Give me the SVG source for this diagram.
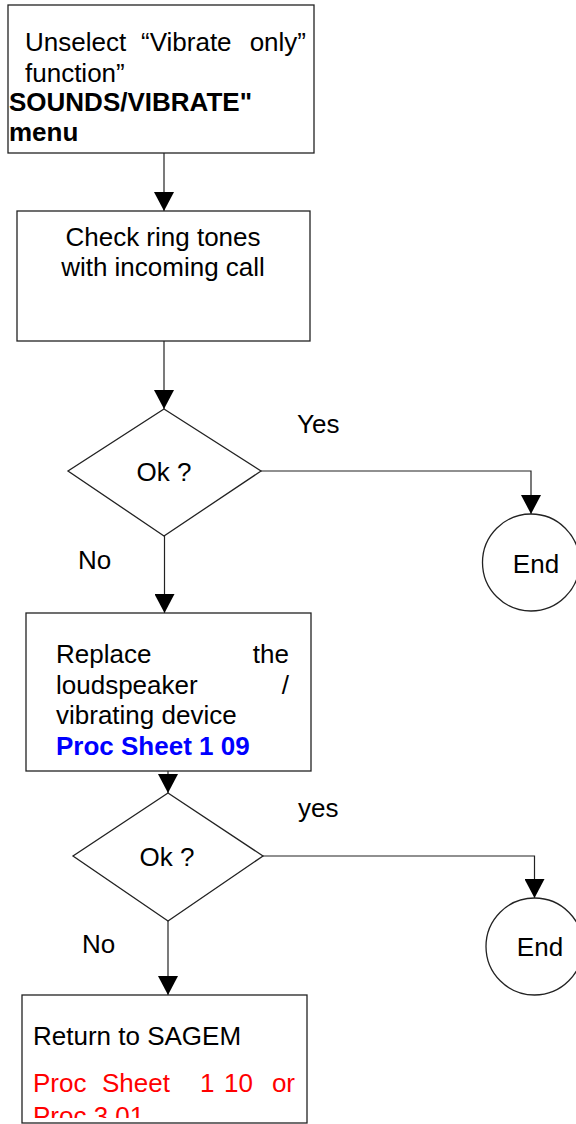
<svg xmlns="http://www.w3.org/2000/svg" width="576" height="1124" viewBox="0 0 576 1124">
<style>
.box{fill:#fff;stroke:#222;stroke-width:1.3}
.ln{fill:none;stroke:#222;stroke-width:1.2}
text{font-family:"Liberation Sans",Arial,sans-serif;font-size:26px;fill:#000}
.b{font-weight:bold}
.blue{fill:#0000ff}
.red{fill:#ff0000}
.c{text-anchor:middle}
.e{text-anchor:end}
</style>
<defs>
<marker id="arr" viewBox="0 0 19 20" refX="19" refY="10" markerWidth="19" markerHeight="20" markerUnits="userSpaceOnUse" orient="auto">
<path d="M0,0 L19,10 L0,20 z" fill="#000"/>
</marker>
<clipPath id="clip4"><rect x="22" y="995" width="285" height="123"/></clipPath>
</defs>
<g id="connectors">
<path class="ln" d="M164,153 V211" marker-end="url(#arr)"/>
<path class="ln" d="M164,341 V409" marker-end="url(#arr)"/>
<path class="ln" d="M261,471 H531 V514" marker-end="url(#arr)"/>
<path class="ln" d="M164.5,536 V613" marker-end="url(#arr)"/>
<path class="ln" d="M168,771 V793" marker-end="url(#arr)"/>
<path class="ln" d="M263,856 H534.5 V898" marker-end="url(#arr)"/>
<path class="ln" d="M168,921 V995" marker-end="url(#arr)"/>
</g>
<g id="labels">
<text x="297" y="433">Yes</text>
<text x="78" y="569">No</text>
<text x="298" y="817">yes</text>
<text x="82" y="953">No</text>
</g>
<g id="node1">
<rect class="box" x="8" y="5" width="306" height="148"/>
<text y="51"><tspan x="25">Unselect</tspan><tspan x="141">“Vibrate</tspan><tspan x="306" class="e">only”</tspan></text>
<text x="25" y="82">function”</text>
<text x="9" y="111" class="b">SOUNDS/VIBRATE"</text>
<text x="9" y="141" class="b">menu</text>
</g>
<g id="node2">
<rect class="box" x="17" y="211" width="293" height="130"/>
<text x="163" y="246" class="c">Check ring tones</text>
<text x="163" y="276" class="c">with incoming call</text>
</g>
<g id="node3">
<polygon class="box" points="164,409 261,471 164,536 68,471"/>
<text x="164" y="481" class="c">Ok ?</text>
</g>
<g id="node4">
<circle class="box" cx="531" cy="562.5" r="48.5"/>
<text x="536" y="573" class="c">End</text>
</g>
<g id="node5">
<rect class="box" x="26" y="613" width="285" height="158"/>
<text y="663"><tspan x="56">Replace</tspan><tspan x="289" class="e">the</tspan></text>
<text y="694"><tspan x="56">loudspeaker</tspan><tspan x="289" class="e">/</tspan></text>
<text x="56" y="724">vibrating device</text>
<text x="56" y="755" class="b blue">Proc Sheet 1 09</text>
</g>
<g id="node6">
<polygon class="box" points="168,793 263,856 168,921 73,856"/>
<text x="167" y="866" class="c">Ok ?</text>
</g>
<g id="node7">
<circle class="box" cx="534.5" cy="946.5" r="48.5"/>
<text x="540" y="956" class="c">End</text>
</g>
<g id="node8">
<rect class="box" x="22" y="995" width="285" height="128"/>
<text x="33" y="1045">Return to SAGEM</text>
<text y="1092" class="red"><tspan x="33">Proc</tspan><tspan x="102">Sheet</tspan><tspan x="200">1</tspan><tspan x="224">10</tspan><tspan x="295" class="e">or</tspan></text>
<text x="33" y="1125" class="red" clip-path="url(#clip4)">Proc 3.01</text>
</g>
</svg>
